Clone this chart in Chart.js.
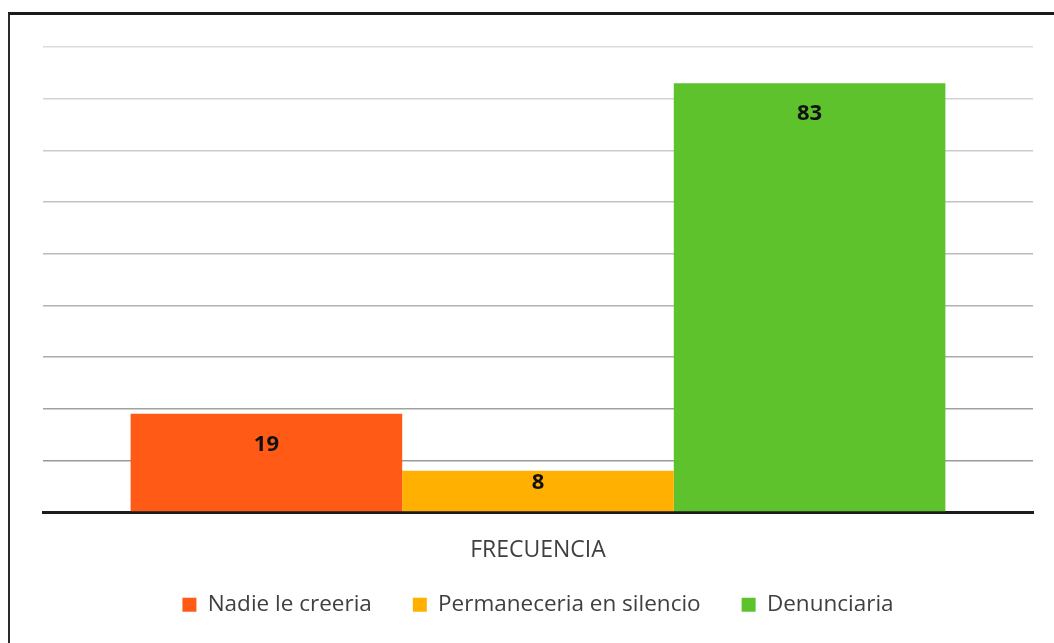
<!DOCTYPE html>
<html>
<head>
<meta charset="utf-8">
<script src="https://cdn.jsdelivr.net/npm/chart.js@4"></script>
<style>
  html, body { margin: 0; padding: 0; background: #fff; }
  #wrap { position: relative; width: 1054px; height: 643px; overflow: hidden; }
  #frame { position: absolute; left: 8px; top: 12px; width: 1100px; height: 700px;
           border-top: 3px solid #1a1a1a; border-left: 2px solid #2a2a2a; }
  canvas { position: absolute; left: 0; top: 0; }
</style>
</head>
<body>
<div id="wrap">
  <canvas id="chart" width="1054" height="643"></canvas>
  <div id="frame"></div>
</div>
<script>
// datos
const categorias = ["FRECUENCIA"];
const series = ["Nadie le creeria", "Permaneceria en silencio", "Denunciaria"];
const valores = [19, 8, 83];
const colores = ["#ff5a16", "#ffb000", "#5ec22c"];

const fuente = "'Open Sans', 'Noto Sans', sans-serif";

// etiquetas dentro de la barra
const etiquetas = {
    id: "etiquetas",
    afterDatasetsDraw(chart) {
        const ctx = chart.ctx;
        ctx.save();
        ctx.font = "bold 22px " + fuente;
        ctx.fillStyle = "#111";
        ctx.textAlign = "center";
        ctx.textBaseline = "middle";
        chart.data.datasets.forEach((ds, i) => {
            chart.getDatasetMeta(i).data.forEach((bar, j) => {
                const y = Math.min(bar.y + 31, (bar.y + bar.base) / 2 - 8);
                ctx.fillText(ds.data[j], bar.x, y);
            });
        });
        ctx.restore();
    }
};

new Chart(document.getElementById("chart"), {
    type: "bar",
    data: {
        labels: categorias,
        datasets: series.map((s, i) => ({
            label: s,
            data: [valores[i]],
            backgroundColor: colores[i],
            barPercentage: 1,
            categoryPercentage: 0.823,
        })),
    },
    options: {
        responsive: false,
        animation: false,
        layout: { padding: { left: 43, right: 21, top: 47, bottom: 17 } },
        scales: {
            x: {
                grid: { display: false },
                border: { display: true, color: "#1c1c1c", width: 3 },
                ticks: { display: false },
                // el nombre de la categoria se dibuja como titulo del eje
                title: {
                    display: true,
                    text: categorias[0],
                    color: "#404040",
                    font: { family: fuente, size: 23 },
                    padding: { top: 0, bottom: -11.5 },
                },
                afterFit(scale) { scale.height = 40.5; },
            },
            y: {
                min: 0,
                max: 90,
                ticks: { display: false, stepSize: 10 },
                border: { display: false },
                grid: {
                    // lineas mas claras arriba, como en el escaneo
                    color: (c) => {
                        const g = Math.round(145 + (c.index / 9) * 75);
                        return `rgb(${g},${g},${g})`;
                    },
                    lineWidth: 1.5,
                    drawTicks: false,
                },
            },
        },
        plugins: {
            legend: {
                position: "bottom",
                labels: {
                    color: "#404040",
                    font: { family: fuente, size: 22.5 },
                    boxWidth: 14,
                    boxHeight: 14,
                    padding: 41,
                },
            },
            tooltip: { enabled: false },
        },
    },
    plugins: [etiquetas],
});
</script>
</body>
</html>
